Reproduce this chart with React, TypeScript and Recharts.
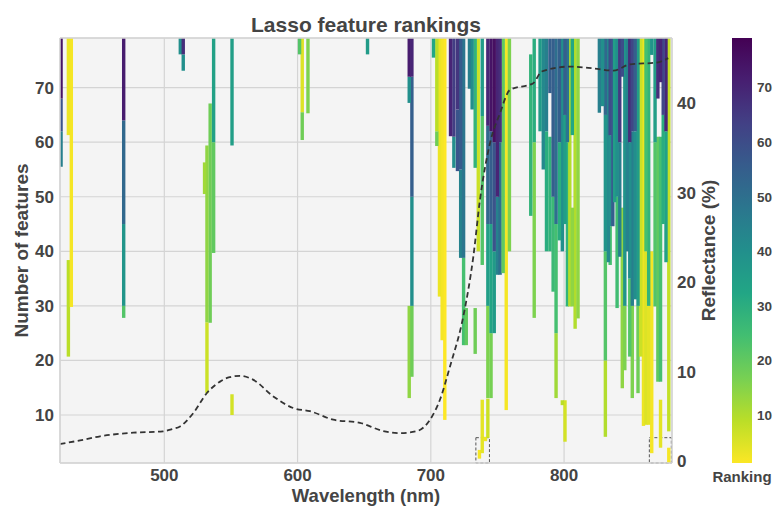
import { ComposedChart, BarChart, Bar, Line, XAxis, YAxis, CartesianGrid, Cell, ReferenceArea, ReferenceLine } from 'recharts';

const FONT = '"Liberation Sans", Arial, Helvetica, sans-serif';
const INK = '#444444';
const FRAME = '#d4d4d4';
const T = 79.1; // top row of the ranking image

// mean reflectance spectrum (nm, %)
const specWl = [421.7, 436.8, 451.8, 476.8, 499, 505.8, 511.8, 521.8, 531.8, 541.8, 549, 556.8, 566.8, 581.8, 596.8, 609.3, 626.8, 646.8, 664, 677, 690, 699.4, 706.9, 714.4, 724.4, 731.9, 736.9, 744.4, 751.9, 759.4, 776.9, 783.2, 804.5, 822, 837, 849.5, 869.5, 878.2];
const specRefl = [1.94, 2.34, 2.8, 3.2, 3.35, 3.6, 3.9, 5.4, 7.6, 8.9, 9.4, 9.55, 9.1, 7.25, 5.95, 5.6, 4.65, 4.3, 3.4, 3.15, 3.4, 4.65, 6.9, 10.6, 16.2, 22.85, 29.2, 35.5, 38.85, 41.45, 42.2, 43.5, 44.05, 43.85, 43.6, 44.3, 44.5, 45];

// lasso path rankings: [wavelength, from n features, to n features, ranking]
const visibleCols = [
  [422.5, 55.5, 62, 45], [422.5, 62, 68, 58], [422.5, 68, T, 74],
  [428, 61.3, T, 3], [428, 20.7, 38.4, 9], [430.2, 29.8, T, 2],
  [469.5, 27.8, 30, 22], [469.5, 30, 45, 38], [469.5, 45, 64, 52], [469.5, 64, T, 72],
  [512, 76.1, T, 40], [514.2, 76.1, T, 68], [514.2, 73.1, 76.1, 40],
  [530.2, 50.5, 56.3, 12], [532, 14, 27, 7], [532, 27, 59.4, 14],
  [534.4, 26.9, 67.1, 18], [537, 39.7, 60, 20], [537, 60, T, 34],
  [550.8, 10, 13.8, 6], [550.8, 59.4, T, 35],
  [601.5, 76.1, T, 22], [603.5, 60.4, 65.5, 18], [603.5, 65.5, T, 5], [607.8, 65.3, T, 16],
  [652.5, 76.1, T, 36],
];

const redEdgeCols = [
  [683.8, 13.1, 30, 14], [683.8, 67.2, 72, 40], [683.8, 72, T, 72],
  [685.8, 17, 30, 18], [685.8, 30, 50, 40], [685.8, 50, 72, 55], [685.8, 72, T, 70],
  [702, 75.5, T, 32], [704.5, 59.3, 62, 18], [704.5, 62, T, 9],
  [706.5, 31.7, T, 3], [708.5, 23.7, T, 2], [710.5, 9.1, T, 1],
  [714.8, 61.1, T, 70], [717.3, 55.3, 61, 40], [717.3, 61, T, 64],
  [720, 54.7, 66, 58], [720, 66, T, 66], [722.4, 38.8, 55, 44], [722.4, 55, T, 56],
  [724.6, 22.8, 38.8, 24], [724.6, 38.8, T, 48], [726.6, 22.8, 29.6, 20],
  [729, 69.8, T, 45], [731, 66, T, 40], [733.3, 21.2, 29.6, 18], [733.3, 55.3, T, 28],
  [735.6, 40, T, 7], [736.5, 2, 3.6, 2], [738.6, 3, 12.8, 4], [738.6, 37.5, 64.8, 22], [738.6, 64.8, T, 36],
  [741, 5.2, 6, 3],
  [742.8, 5.8, 13, 7], [742.8, 13.1, 30, 16], [742.8, 30, 45, 35], [742.8, 45, 63, 52], [742.8, 63, T, 70],
  [745.2, 13.1, 25, 17], [745.2, 25, 45, 33], [745.2, 45, 62, 55], [745.2, 62, T, 74],
  [747.6, 25, 40, 36], [747.6, 40, 60, 58], [747.6, 60, T, 75],
  [750, 35.7, 50, 44], [750, 50, T, 70], [752, 35.7, 60, 50], [752, 60, T, 68],
  [754.3, 36, T, 20], [756.6, 10.9, T, 2], [759, 40, T, 16],
];

const nirCols = [
  [775, 46.5, 76.1, 28], [777.6, 27.8, 60, 16], [777.6, 60, T, 30],
  [782, 62, T, 36], [784.4, 55, T, 42],
  [786.8, 40, 62, 30], [786.8, 62, T, 45], [789.4, 40, 61, 28], [789.4, 69, T, 55],
  [791.8, 32.6, 50, 26], [791.8, 50, T, 55],
  [794, 13.1, 25, 12], [794, 25, 45, 24], [794, 45, T, 50],
  [796.5, 42, 60, 30], [796.5, 60, T, 55], [798.7, 40, T, 40], [798.7, 11.8, 12.7, 9],
  [800.7, 5.1, 12.7, 6], [800.7, 45, 65, 35], [800.7, 65, T, 55],
  [802.5, 29.9, 60, 28], [802.5, 60, T, 48], [804.3, 29.9, T, 10],
  [806.2, 29.9, 48, 14], [806.2, 61.3, T, 32], [808.3, 25.8, T, 10], [810.5, 27.7, T, 14],
];

const farNirCols = [
  [826.5, 65.4, T, 45], [829, 66.6, T, 40],
  [831, 6, 20, 10], [831, 20, 40, 22], [831, 40, 65, 38], [831, 65, T, 52],
  [833.3, 38, T, 42], [834.6, 37.5, 44.6, 24], [834.6, 44.6, 61.3, 40], [834.6, 61.3, T, 60],
  [836.6, 44.6, T, 55], [838, 49, T, 35], [839.8, 29.6, 50, 25], [839.8, 50, T, 40],
  [841.8, 39, 60, 45], [841.8, 60, T, 65], [843.7, 14.9, 48, 14], [843.7, 72, T, 60],
  [845.6, 18.2, 30, 16], [845.6, 30, T, 38], [847.5, 40, T, 44],
  [849.3, 20.7, 35, 22], [849.3, 35, 60, 40], [849.3, 60, T, 68],
  [851.2, 13.1, 30, 16], [851.2, 30, 62, 45], [851.2, 62, T, 62],
  [853.4, 31.2, 62, 40], [853.4, 62, T, 55], [855.5, 14, 30, 18], [855.5, 30, T, 35],
  [857.6, 20.7, T, 7], [859.6, 8, T, 3], [861.5, 8.2, 40, 5], [861.5, 40, T, 24],
  [863.5, 8.2, 30, 4], [863.5, 30, T, 28], [865.8, 3, 40, 2], [865.8, 76, T, 38],
  [868.3, 29.9, 60, 22], [868.3, 60, T, 35], [870.4, 16.1, 61, 20], [870.4, 68, T, 68],
  [872.4, 4, 12.8, 4], [872.4, 16.1, 61, 24], [872.4, 71, T, 70],
  [874.4, 45, 65, 30], [874.4, 65, T, 62], [876.5, 38, 62, 34], [876.5, 62, T, 70],
  [878.6, 1.2, 4, 2], [878.6, 7, T, 8],
];

// dashed highlight boxes [from nm, to nm]
const boxWl = [[733.8, 744], [864, 880.5]];
const boxN = [1.2, 5.84];

const xTicks = [500, 600, 700, 800];
const featTicks = [10, 20, 30, 40, 50, 60, 70];
const reflTicks = [0, 10, 20, 30, 40];
const rankTicks = [10, 20, 30, 40, 50, 60, 70];

const VIRIDIS = ['#440154', '#482475', '#414487', '#355f8d', '#2a788e', '#21918c', '#22a884', '#44bf70', '#7ad151', '#bddf26', '#fde725'];

const hex = (h: string) => [1, 3, 5].map((i) => parseInt(h.slice(i, i + 2), 16));

// reversed viridis: rank 1 -> yellow, rank 78 -> purple
const rankColor = (rank: number) => {
  const t = 1 - Math.min(Math.max((rank - 1) / 77, 0), 1);
  const p = t * 10;
  const i = Math.min(Math.floor(p), 9);
  const f = p - i;
  const a = hex(VIRIDIS[i]);
  const b = hex(VIRIDIS[i + 1]);
  return `rgb(${a.map((v, k) => Math.round(v + (b[k] - v) * f)).join(',')})`;
};

const segments = [...visibleCols, ...redEdgeCols, ...nirCols, ...farNirCols]
  .map(([wl, lo, hi, rank]) => ({ wl, lo, hi, rank }))
  .sort((a, b) => a.lo - b.lo);

const spectrum = specWl.map((wl, i) => ({ wl, refl: specRefl[i] }));

const tickStyle = { fontSize: 17, fontWeight: 700, fill: INK, fontFamily: FONT };

// columns are ~3.4px wide, centred on the bar position recharts computes
const ColumnShape = ({ x, y, width, height, fill }: any) => {
  if (height == null || !isFinite(height)) return null;
  const cx = x + width / 2;
  const top = height < 0 ? y + height : y;
  return <rect x={cx - 1.7} y={top} width={3.4} height={Math.abs(height)} fill={fill} />;
};

const VTitle = ({ viewBox, text, dx }: any) => (
  <text
    transform={`translate(${viewBox.x + dx}, ${viewBox.y + viewBox.height / 2}) rotate(-90)`}
    textAnchor="middle"
    dominantBaseline="central"
    fontSize={19}
    fontWeight={700}
    fill={INK}
    fontFamily={FONT}
  >
    {text}
  </text>
);

const ColorBar = () => (
  <BarChart
    width={73}
    height={506}
    data={[{ name: 'Ranking', span: [1.2, T] }]}
    margin={{ top: 38, right: 0, bottom: 0, left: 32 }}
    barCategoryGap={0}
  >
    <defs>
      <linearGradient id="rankGrad" x1="0" y1="0" x2="0" y2="1">
        {VIRIDIS.map((_, k) => (
          <stop key={k} offset={k / 10} stopColor={rankColor(T - (k / 10) * (T - 1.2))} />
        ))}
      </linearGradient>
    </defs>
    <XAxis dataKey="name" height={43} axisLine={false} tickLine={false} interval={0}
      tick={{ fontSize: 15, fontWeight: 700, fill: INK, fontFamily: FONT }} />
    <YAxis orientation="right" width={21} domain={[1.2, T]} ticks={rankTicks} allowDataOverflow
      axisLine={false} tickLine={false} tickSize={4} tickMargin={1}
      tick={{ fontSize: 13.5, fontWeight: 700, fill: INK, fontFamily: FONT }} />
    <Bar dataKey="span" fill="url(#rankGrad)" isAnimationActive={false} />
  </BarChart>
);

export default function App() {
  return (
    <div style={{ position: 'absolute', left: 0, top: 0, width: 773, height: 506, background: '#fff' }}>
      <div
        style={{
          position: 'absolute', left: 0, top: 14, width: 732, textAlign: 'center',
          fontFamily: FONT, fontWeight: 700, fontSize: 21, lineHeight: '21px', color: INK,
        }}
      >
        Lasso feature rankings
      </div>
      <div style={{ position: 'absolute', left: 0, top: 0 }}>
        <ComposedChart width={773} height={506} data={segments} margin={{ top: 38, right: 41, bottom: 0, left: 0 }}>
          <CartesianGrid yAxisId="feat" fill="#f4f4f4" stroke={FRAME} strokeWidth={1.2} />
          <XAxis
            dataKey="wl" type="number" domain={[421.7, 881]} ticks={xTicks} allowDataOverflow
            height={43} axisLine={{ stroke: FRAME, strokeWidth: 1.5 }} tickLine={false} tickMargin={0}
            tick={tickStyle}
            label={{ value: 'Wavelength (nm)', position: 'insideBottom', offset: 4, fontSize: 18.5, fontWeight: 700, fill: INK, fontFamily: FONT }}
          />
          <YAxis
            yAxisId="feat" width={60} domain={[1.2, T]} ticks={featTicks} allowDataOverflow
            axisLine={{ stroke: FRAME, strokeWidth: 1.5 }} tickLine={false} tickSize={4} tickMargin={2}
            tick={tickStyle}
            label={{ content: ({ viewBox }: any) => <VTitle viewBox={viewBox} dx={21} text="Number of features" /> }}
          />
          <YAxis
            yAxisId="refl" orientation="right" width={60} domain={[-0.18, 47.24]} ticks={reflTicks} allowDataOverflow
            axisLine={{ stroke: FRAME, strokeWidth: 1.5 }} tickLine={false} tickSize={4} tickMargin={1}
            tick={tickStyle}
            label={{ content: ({ viewBox }: any) => <VTitle viewBox={viewBox} dx={36} text="Reflectance (%)" /> }}
          />
          <ReferenceLine yAxisId="feat" y={T} stroke={FRAME} strokeWidth={1.5} />
          <Bar yAxisId="feat" dataKey={(d: any) => [d.lo, d.hi]} barSize={3} shape={<ColumnShape />} isAnimationActive={false}>
            {segments.map((s, i) => (
              <Cell key={i} fill={rankColor(s.rank)} />
            ))}
          </Bar>
          <Line
            yAxisId="refl" data={spectrum} dataKey="refl" type="monotone" stroke="#333333" strokeWidth={1.8}
            strokeDasharray="5.5 3.5" dot={false} activeDot={false} isAnimationActive={false}
          />
          {boxWl.map(([a, b], i) => (
            <ReferenceArea key={i} yAxisId="feat" x1={a} x2={b} y1={boxN[0]} y2={boxN[1]}
              fill="none" stroke="#555" strokeWidth={1} strokeDasharray="3 2" ifOverflow="visible" />
          ))}
        </ComposedChart>
      </div>
      <div style={{ position: 'absolute', left: 700, top: 0 }}>
        <ColorBar />
      </div>
    </div>
  );
}
